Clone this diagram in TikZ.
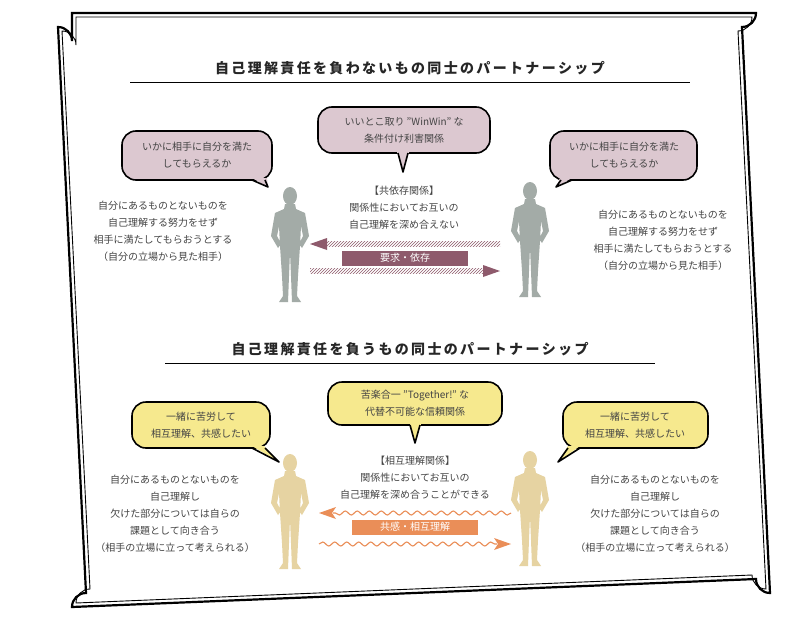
\documentclass[tikz,border=0pt]{standalone}
\usepackage{fontspec}
\setmainfont{Noto Sans CJK JP}
\usetikzlibrary{decorations.pathmorphing,patterns,arrows.meta,calc}
\definecolor{txt}{HTML}{444444}
\definecolor{pinkb}{HTML}{DCC8D0}
\definecolor{yelb}{HTML}{F6E98E}
\definecolor{greyfig}{HTML}{A3ABA7}
\definecolor{tanfig}{HTML}{E6D3A2}
\definecolor{plum}{HTML}{8E5A6C}
\definecolor{orng}{HTML}{EA8E58}
\begin{document}
\begin{tikzpicture}[x=1pt,y=-1pt,
  bub/.style={draw=black,line width=1.6pt,rounded corners=14pt},
  t/.style={text=txt,font=\fontsize{10}{17}\selectfont,align=center},
  ttl/.style={text=black!85,font=\fontsize{14}{16}\selectfont\bfseries},
  lbl/.style={text=white,font=\fontsize{10}{12}\selectfont,inner sep=0pt,minimum height=15pt}]
\useasboundingbox (0,0) rectangle (811,621);
\fill[white] (0,0) rectangle (811,621);
% frame
\foreach \o/\w in {0/2.2pt,4/0.9pt}{
 \draw[line width=\w] (58+\o+14,13+\o) -- (770-\o-14,13+\o) arc[start angle=180,end angle=270,radius=-14] -- (770-\o,607-\o-14)
 arc[start angle=270,end angle=360,radius=-14] -- (58+\o+14,607-\o) arc[start angle=0,end angle=90,radius=-14] -- (58+\o,13+\o+14) arc[start angle=90,end angle=180,radius=-14] -- cycle;}
% titles
\node[ttl] (t1) at (410,68) {自\,己\,理\,解\,責\,任\,を\,負\,わ\,な\,い\,も\,の\,同\,士\,の\,パ\,ー\,ト\,ナ\,ー\,シ\,ッ\,プ};
\draw[line width=0.7pt] (130,82) -- (690,82);
\node[ttl] (t2) at (410,349) {自\,己\,理\,解\,責\,任\,を\,負\,う\,も\,の\,同\,士\,の\,パ\,ー\,ト\,ナ\,ー\,シ\,ッ\,プ};
\draw[line width=0.7pt] (165,363) -- (655,363);
% figures
\newcommand{\myperson}[3]{%
 \fill[#3] (#1,#2) ellipse (7 and 9);
 \fill[#3] (#1-5,#2+8) -- (#1+5,#2+8) -- (#1+6,#2+13) -- (#1+15,#2+17) -- (#1+19,#2+40) -- (#1+12,#2+52) -- (#1+9,#2+48) -- (#1+13,#2+40) -- (#1+11,#2+30)
 -- (#1+10,#2+50) -- (#1+8,#2+80) -- (#1+7,#2+100) -- (#1+11,#2+106) -- (#1+2,#2+106) -- (#1+1,#2+80) -- (#1,#2+56) -- (#1-1,#2+80) -- (#1-2,#2+106) -- (#1-11,#2+106) -- (#1-7,#2+100) -- (#1-8,#2+80) -- (#1-10,#2+50)
 -- (#1-11,#2+30) -- (#1-13,#2+40) -- (#1-9,#2+48) -- (#1-12,#2+52) -- (#1-19,#2+40) -- (#1-15,#2+17) -- (#1-6,#2+13) -- cycle;}
\myperson{290}{196}{greyfig}
\myperson{530}{191}{greyfig}
\myperson{290}{463}{tanfig}
\myperson{530}{460}{tanfig}
% top bubbles
\draw[bub,fill=pinkb] (122,131) rectangle (272,180);
\fill[pinkb] (252,178) -- (267,178) -- (268,187) -- cycle;
\draw[line width=1.6pt,line join=round] (252,180) -- (268,187) -- (265,180);
\node[t] (b1) at (197,155) {いかに相手に自分を満た\\してもらえるか};
\draw[bub,fill=pinkb] (318,107) rectangle (490,153);
\fill[pinkb] (397,152) -- (409,152) -- (403,172) -- cycle;
\draw[line width=1.6pt,line join=round] (398,153) -- (403,172) -- (408,153);
\node[t] (b2) at (404,130) {いいとこ取り "WinWin" な\\条件付け利害関係};
\draw[bub,fill=pinkb] (550,131) rectangle (697,180);
\fill[pinkb] (560,178) -- (572,178) -- (556,187) -- cycle;
\draw[line width=1.6pt,line join=round] (561,180) -- (556,187) -- (572,180);
\node[t] (b3) at (624,155) {いかに相手に自分を満た\\してもらえるか};
\node[t] (l1) at (163,231) {自分にあるものとないものを\\自己理解する努力をせず\\相手に満たしてもらおうとする\\（自分の立場から見た相手）};
\node[t] (r1) at (663,240) {自分にあるものとないものを\\自己理解する努力をせず\\相手に満たしてもらおうとする\\（自分の立場から見た相手）};
\node[t] (c1) at (404,208) {【共依存関係】\\関係性においてお互いの\\自己理解を深め合えない};
\fill[pattern=north east lines,pattern color=plum] (325,241.5) rectangle (500,246.5);
\fill[plum] (310,244) -- (327,238) -- (327,250) -- cycle;
\fill[pattern=north east lines,pattern color=plum] (310,268.5) rectangle (485,273.5);
\fill[plum] (500,271) -- (483,265) -- (483,277) -- cycle;
\node[lbl,fill=plum,minimum width=126pt] (k1) at (405,258) {要求・依存};
% bottom bubbles
\draw[bub,fill=yelb] (132,402) rectangle (270,448);
\fill[yelb] (252,446) -- (264,446) -- (279,462) -- cycle;
\draw[line width=1.6pt,line join=round] (252,448) -- (279,462) -- (265,448);
\node[t] (b4) at (201,425) {一緒に苦労して\\相互理解、共感したい};
\draw[bub,fill=yelb] (328,382) rectangle (502,425);
\fill[yelb] (410,424) -- (421,424) -- (415,443) -- cycle;
\draw[line width=1.6pt,line join=round] (410,425) -- (415,443) -- (420,425);
\node[t] (b5) at (415,403) {苦楽合一 "Together!" な\\代替不可能な信頼関係};
\draw[bub,fill=yelb] (563,402) rectangle (708,448);
\fill[yelb] (568,446) -- (580,446) -- (558,462) -- cycle;
\draw[line width=1.6pt,line join=round] (568,448) -- (558,462) -- (580,448);
\node[t] (b6) at (635,425) {一緒に苦労して\\相互理解、共感したい};
\node[t] (l2) at (175,514) {自分にあるものとないものを\\自己理解し\\欠けた部分については自らの\\課題として向き合う\\（相手の立場に立って考えられる）};
\node[t] (r2) at (655,514) {自分にあるものとないものを\\自己理解し\\欠けた部分については自らの\\課題として向き合う\\（相手の立場に立って考えられる）};
\node[t] (c2) at (415,478) {【相互理解関係】\\関係性においてお互いの\\自己理解を深め合うことができる};
\coordinate (w1s) at (511,513); \coordinate (w1e) at (319,513);
\coordinate (w2s) at (319,544); \coordinate (w2e) at (511,544);
\draw[orng,line width=1.1pt,decorate,decoration={snake,amplitude=2pt,segment length=12pt}] (w1s) -- ($(w1e)+(14,0)$);
\fill[orng] (w1e) -- ++(17,-6) -- ++(-4,6) -- ++(4,6) -- cycle;
\draw[orng,line width=1.1pt,decorate,decoration={snake,amplitude=2pt,segment length=12pt}] (w2s) -- ($(w2e)+(-14,0)$);
\fill[orng] (w2e) -- ++(-17,-6) -- ++(4,6) -- ++(-4,6) -- cycle;
\node[lbl,fill=orng,minimum width=126pt] (k2) at (415,527) {共感・相互理解};
\end{tikzpicture}
\end{document}
